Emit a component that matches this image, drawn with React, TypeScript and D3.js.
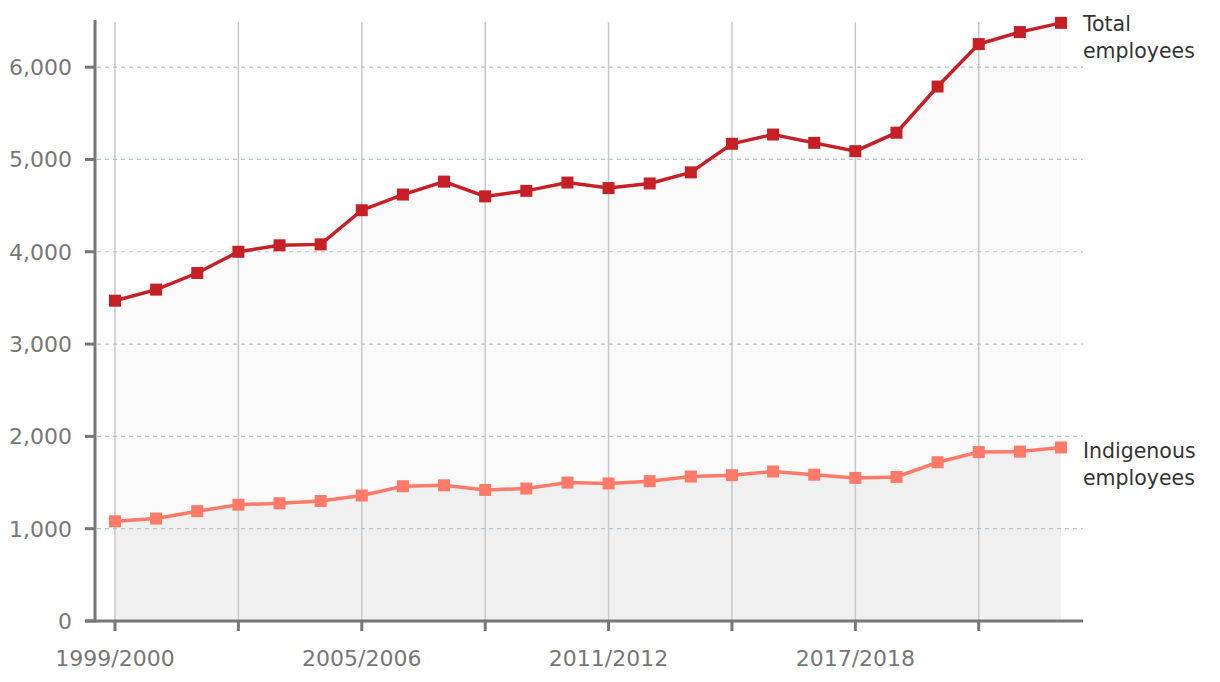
import React from "react";
import * as d3 from "d3";

const years = [
  "1999/2000","2000/2001","2001/2002","2002/2003","2003/2004","2004/2005",
  "2005/2006","2006/2007","2007/2008","2008/2009","2009/2010","2010/2011",
  "2011/2012","2012/2013","2013/2014","2014/2015","2015/2016","2016/2017",
  "2017/2018","2018/2019","2019/2020","2020/2021","2021/2022","2022/2023",
];
const totalEmployees = [
  3470, 3590, 3770, 4000, 4070, 4080, 4450, 4620, 4760, 4600, 4660, 4750,
  4690, 4740, 4860, 5170, 5270, 5180, 5090, 5290, 5790, 6250, 6380, 6480,
];
const indigenousEmployees = [
  1080, 1110, 1190, 1260, 1275, 1300, 1360, 1460, 1470, 1420, 1435, 1500,
  1490, 1515, 1565, 1580, 1620, 1585, 1550, 1560, 1720, 1830, 1835, 1880,
];
const yTicks = [0, 1000, 2000, 3000, 4000, 5000, 6000];
const gridEvery = 3;
const labelEvery = 6;

export default function App() {
  const W = 1220, H = 682;
  const axisX = 95, axisY = 621, plotRight = 1083;
  const x = d3.scaleLinear().domain([0, years.length - 1]).range([115, 1061]);
  const y = d3.scaleLinear().domain([0, 6500]).range([axisY, 21]);
  const fmt = d3.format(",");
  const tickFont = "'DejaVu Sans', sans-serif";
  const labelFont = "'DejaVu Sans', sans-serif";

  const line = d3.line<number>().x((_, i) => x(i)).y((d) => y(d));
  const area = d3.area<number>().x((_, i) => x(i)).y0(y(0)).y1((d) => y(d));

  const idx = years.map((_, i) => i);
  const totalColor = "#c62026";
  const indColor = "#ff7a68";

  return (
    <svg width={W} height={H} style={{ position: "absolute", left: 0, top: 0 }}>
      <path d={area(totalEmployees) || ""} fill="#fafafa" />
      <path d={area(indigenousEmployees) || ""} fill="#f0f0f0" />
      {idx.filter((i) => i % gridEvery === 0).map((i) => (
        <line key={"vg" + i} x1={x(i)} x2={x(i)} y1={22} y2={axisY} stroke="#c2cad0" strokeWidth={1.5} />
      ))}
      {yTicks.filter((t) => t > 0).map((t) => (
        <line key={"hg" + t} x1={axisX + 2} x2={plotRight} y1={y(t)} y2={y(t)} stroke="#b8c2ca" strokeWidth={1.2} strokeDasharray="4 4" />
      ))}
      <line x1={axisX} x2={axisX} y1={20} y2={axisY + 1.5} stroke="#777" strokeWidth={3} />
      {yTicks.map((t) => (
        <g key={"yt" + t}>
          <line x1={axisX - 10} x2={axisX} y1={y(t)} y2={y(t)} stroke="#777" strokeWidth={3} />
          <text x={72} y={y(t)} dy="0.36em" textAnchor="end" fill="#777" fontSize={22} fontFamily={tickFont}>{fmt(t)}</text>
        </g>
      ))}
      <line x1={axisX - 10} x2={plotRight} y1={axisY} y2={axisY} stroke="#777" strokeWidth={3} />
      {idx.filter((i) => i % gridEvery === 0).map((i) => (
        <line key={"xt" + i} x1={x(i)} x2={x(i)} y1={axisY} y2={axisY + 10} stroke="#777" strokeWidth={3} />
      ))}
      {idx.filter((i) => i % labelEvery === 0).map((i) => (
        <text key={"xl" + i} x={x(i)} y={666} textAnchor="middle" fill="#777" fontSize={22} fontFamily={tickFont}>{years[i]}</text>
      ))}
      <path d={line(indigenousEmployees) || ""} fill="none" stroke={indColor} strokeWidth={3.5} />
      {indigenousEmployees.map((v, i) => (
        <rect key={"im" + i} x={x(i) - 6} y={y(v) - 6} width={12} height={12} fill={indColor} />
      ))}
      <path d={line(totalEmployees) || ""} fill="none" stroke={totalColor} strokeWidth={3.5} />
      {totalEmployees.map((v, i) => (
        <rect key={"tm" + i} x={x(i) - 6} y={y(v) - 6} width={12} height={12} fill={totalColor} />
      ))}
      <g fontFamily={labelFont} fontSize={20.5} fill="#333">
        <text x={1083} y={31}>
          <tspan x={1083}>Total</tspan>
          <tspan x={1083} dy={27}>employees</tspan>
        </text>
        <text x={1083} y={458}>
          <tspan x={1083}>Indigenous</tspan>
          <tspan x={1083} dy={27}>employees</tspan>
        </text>
      </g>
    </svg>
  );
}
